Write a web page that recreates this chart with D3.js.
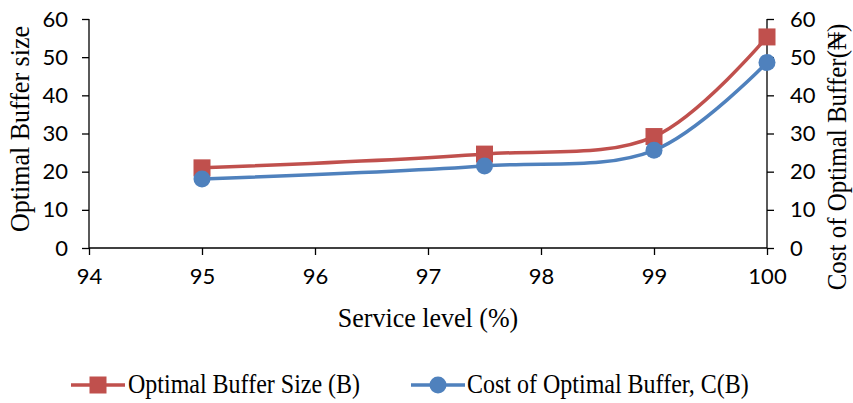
<!DOCTYPE html>
<html>
<head>
<meta charset="utf-8">
<script src="https://cdn.jsdelivr.net/npm/d3@7/dist/d3.min.js"></script>
<style>
  html, body { margin: 0; padding: 0; background: #fff; }
  svg { display: block; }
  .tick text { font-family: Lato, "Open Sans", sans-serif; font-size: 22px; fill: #000; }
  .title { font-family: "Liberation Serif", "Times New Roman", serif; fill: #000; }
</style>
</head>
<body>
<svg id="chart" width="853" height="403"></svg>
<script>
// Service level (%) on the x axis
const serviceLevel = [95, 97.5, 99, 100];
// Optimal buffer size B (left axis)
const bufferSize = [21, 24.6, 29.2, 55.3];
// Cost of optimal buffer C(B) in naira (right axis)
const bufferCost = [18.1, 21.5, 25.6, 48.6];

const xTicks = [94, 95, 96, 97, 98, 99, 100];
const yTicks = [0, 10, 20, 30, 40, 50, 60];

const redColor = "#C0504D";
const blueColor = "#4F81BD";

const svg = d3.select("#chart");
const plot = { left: 89, right: 767, top: 19, bottom: 248 };

const x = d3.scaleLinear().domain([94, 100]).range([plot.left, plot.right]);
const yLeft = d3.scaleLinear().domain([0, 60]).range([plot.bottom, plot.top]);
const yRight = d3.scaleLinear().domain([0, 60]).range([plot.bottom, plot.top]);

// Axes
const xAxis = svg.append("g")
  .attr("transform", `translate(0,${plot.bottom})`)
  .call(d3.axisBottom(x).tickValues(xTicks).tickSize(7).tickPadding(13).tickFormat(d3.format("d")));

const leftAxis = svg.append("g")
  .attr("transform", `translate(${plot.left},0)`)
  .call(d3.axisLeft(yLeft).tickValues(yTicks).tickSize(7).tickPadding(14).tickFormat(d3.format("d")));

const rightAxis = svg.append("g")
  .attr("transform", `translate(${plot.right},0)`)
  .call(d3.axisRight(yRight).tickValues(yTicks).tickSize(7).tickPadding(16).tickFormat(d3.format("d")));

[xAxis, leftAxis, rightAxis].forEach(g => {
  g.select(".domain").attr("stroke", "#000").attr("stroke-width", 1.3);
  g.selectAll(".tick line").attr("stroke", "#000").attr("stroke-width", 1.3);
});
// plain axis lines without the end caps d3 adds to the domain path
xAxis.select(".domain").attr("d", `M${plot.left},0H${plot.right}`);
leftAxis.select(".domain").attr("d", `M0,${plot.top}V${plot.bottom}`);
rightAxis.select(".domain").attr("d", `M0,${plot.top}V${plot.bottom}`);

// Smoothed series lines
const curve = d3.curveCatmullRom.alpha(0.5);
const lineB = d3.line().x((d, i) => x(serviceLevel[i])).y(d => yLeft(d)).curve(curve);
const lineC = d3.line().x((d, i) => x(serviceLevel[i])).y(d => yRight(d)).curve(curve);

svg.append("path").attr("d", lineB(bufferSize))
  .attr("fill", "none").attr("stroke", redColor).attr("stroke-width", 3.5);
svg.append("path").attr("d", lineC(bufferCost))
  .attr("fill", "none").attr("stroke", blueColor).attr("stroke-width", 3.5);

// Markers
const sq = 17;
svg.append("g").selectAll("rect").data(bufferSize).join("rect")
  .attr("x", (d, i) => x(serviceLevel[i]) - sq / 2)
  .attr("y", d => yLeft(d) - sq / 2)
  .attr("width", sq).attr("height", sq)
  .attr("fill", redColor);

svg.append("g").selectAll("circle").data(bufferCost).join("circle")
  .attr("cx", (d, i) => x(serviceLevel[i]))
  .attr("cy", d => yRight(d))
  .attr("r", 8.5)
  .attr("fill", blueColor);

// Axis titles (serif, slightly tall proportions)
svg.append("text").attr("class", "title")
  .attr("transform", "translate(428,327) scale(1,1.08)")
  .attr("text-anchor", "middle").attr("font-size", 26)
  .text("Service level (%)");

svg.append("text").attr("class", "title")
  .attr("transform", "translate(29,129) rotate(-90) scale(1,1.08)")
  .attr("text-anchor", "middle").attr("font-size", 26)
  .text("Optimal Buffer size");

svg.append("text").attr("class", "title")
  .attr("transform", "translate(846,157) rotate(-90) scale(1,1.08)")
  .attr("text-anchor", "middle").attr("font-size", 25)
  .text("Cost of Optimal Buffer(\u20A6)");

// Legend
const legendY = 385;
const legend = svg.append("g");
legend.append("line").attr("x1", 71).attr("x2", 125).attr("y1", legendY).attr("y2", legendY)
  .attr("stroke", redColor).attr("stroke-width", 3.5);
legend.append("rect").attr("x", 98 - sq / 2).attr("y", legendY - sq / 2)
  .attr("width", sq).attr("height", sq).attr("fill", redColor);
legend.append("text").attr("class", "title")
  .attr("transform", `translate(128,${legendY + 8}) scale(1,1.1)`)
  .attr("font-size", 24).text("Optimal Buffer Size (B)");

legend.append("line").attr("x1", 411).attr("x2", 465).attr("y1", legendY).attr("y2", legendY)
  .attr("stroke", blueColor).attr("stroke-width", 3.5);
legend.append("circle").attr("cx", 438).attr("cy", legendY).attr("r", 8.5).attr("fill", blueColor);
legend.append("text").attr("class", "title")
  .attr("transform", `translate(467,${legendY + 8}) scale(1,1.1)`)
  .attr("font-size", 24).text("Cost of Optimal Buffer, C(B)");
</script>
</body>
</html>
